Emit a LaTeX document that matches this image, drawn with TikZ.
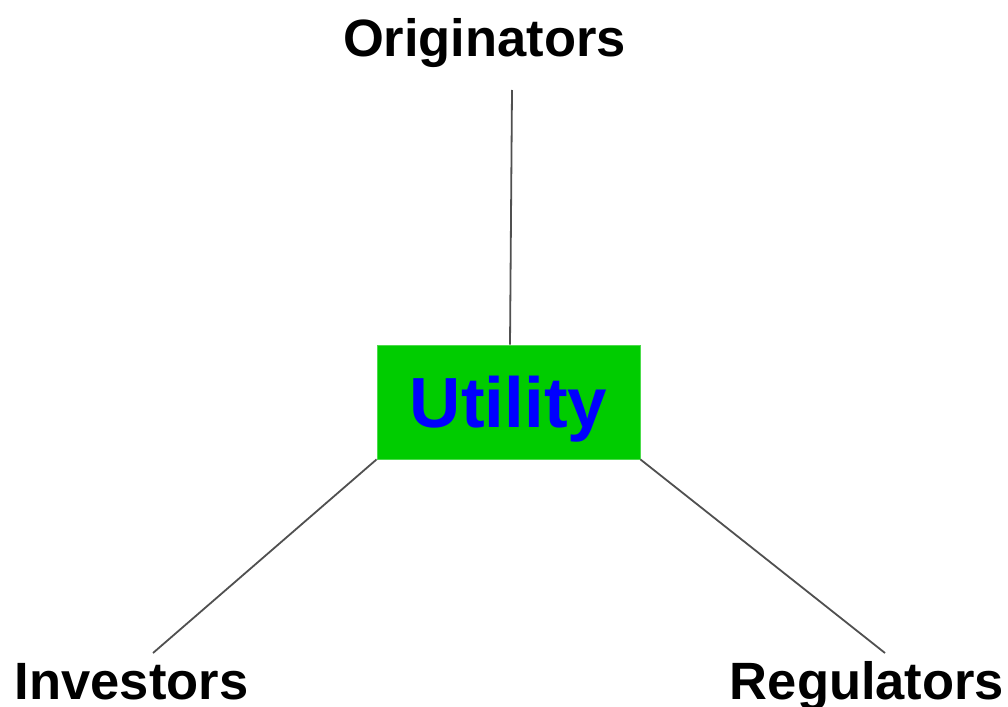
\documentclass[tikz,border=0pt]{standalone}
\usepackage{fontspec}
\setmainfont{Liberation Sans}
\definecolor{boxgreen}{HTML}{00CC00}
\definecolor{textblue}{HTML}{0000FF}
\definecolor{linkgray}{HTML}{505050}
\begin{document}
\begin{tikzpicture}[x=1pt,y=-1pt,
  role/.style={anchor=base,inner sep=0pt,font=\bfseries\fontsize{52.5}{60}\selectfont},
  hub/.style={fill=boxgreen,draw=boxgreen!70!white,line width=0.8pt,
    minimum width=263pt,minimum height=114pt,inner sep=0pt,
    text=textblue,font=\bfseries\fontsize{71}{80}\selectfont,
    text height=51pt,text depth=0pt},
  link/.style={draw=linkgray,line width=1.8pt}]
  \useasboundingbox (0,0) rectangle (1008,706);
  % actors
  \node[role] (orig) at (484.5,57) {Originators};
  \node[role] (inv) at (131.5,699) {Investors};
  \node[role] (reg) at (867,699) {Regulators};
  % the utility in the middle
  \node[hub] (util) at (508.5,402) {Utility};
  % free ends of the connectors
  \coordinate (otip) at (512,90);
  \coordinate (itip) at (153,653);
  \coordinate (rtip) at (885,653);
  \draw[link] (otip) -- (util.north -| 510,0);
  \draw[link] (util.south west) -- (itip);
  \draw[link] (util.south east) -- (rtip);
\end{tikzpicture}
\end{document}
